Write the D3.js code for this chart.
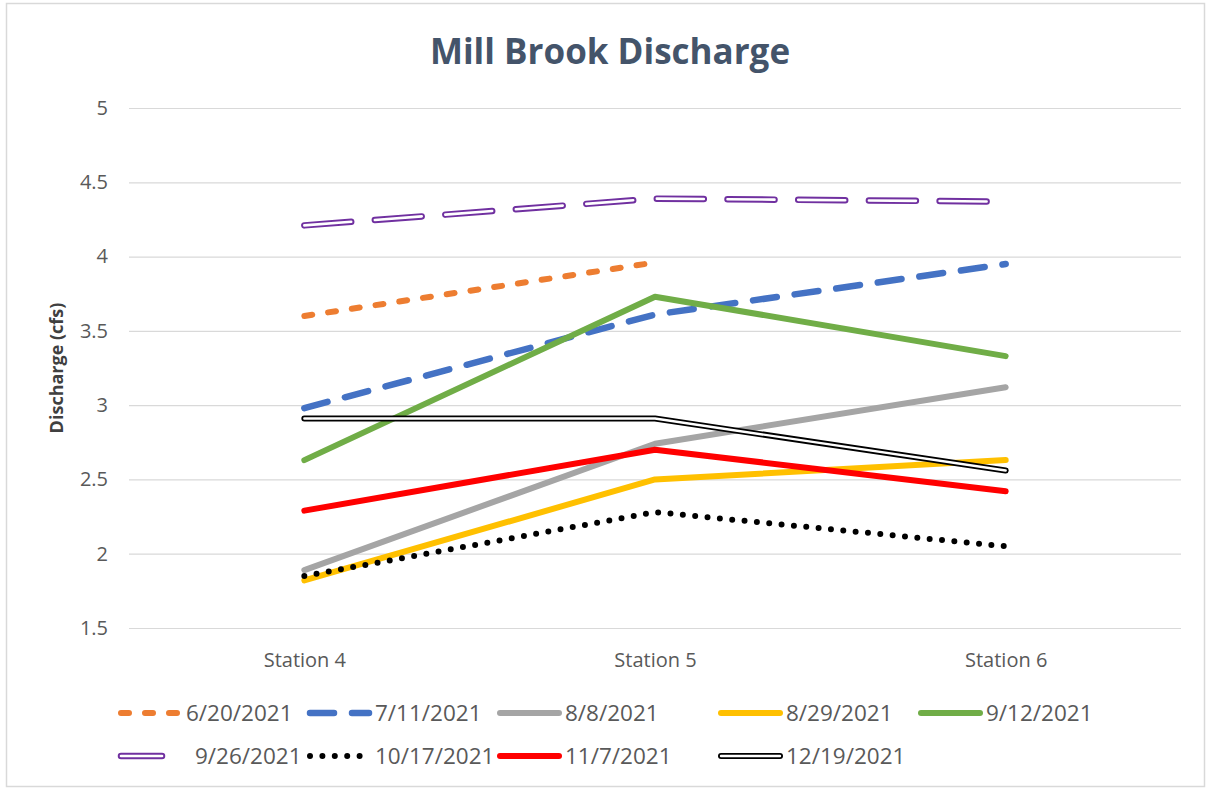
<!DOCTYPE html>
<html><head><meta charset="utf-8">
<script src="https://cdn.jsdelivr.net/npm/d3@7"></script>
<style>body{margin:0;background:#fff;}svg{display:block;font-family:"Open Sans",sans-serif;}</style>
</head><body>
<svg id="c" width="1207" height="790"></svg>
<script>
const categories = ["Station 4", "Station 5", "Station 6"];
const seriesNames = ["6/20/2021","7/11/2021","8/8/2021","8/29/2021","9/12/2021","9/26/2021","10/17/2021","11/7/2021","12/19/2021"];
const s0620 = [3.60, 3.96, null];
const s0711 = [2.98, 3.61, 3.95];
const s0808 = [1.89, 2.74, 3.12];
const s0829 = [1.82, 2.50, 2.63];
const s0912 = [2.63, 3.73, 3.33];
const s0926 = [4.21, 4.39, 4.37];
const s1017 = [1.85, 2.28, 2.05];
const s1107 = [2.29, 2.70, 2.42];
const s1219 = [2.91, 2.91, 2.56];
const yTicks = [1.5, 2, 2.5, 3, 3.5, 4, 4.5, 5];
const seriesValues = [s0620, s0711, s0808, s0829, s0912, s0926, s1017, s1107, s1219];

const styles = [
  {color:"#ED7D31", w:6, dash:"8,16", cap:"round"},
  {color:"#4472C4", w:6.5, dash:"24,18", cap:"round"},
  {color:"#A5A5A5", w:6},
  {color:"#FFC000", w:6},
  {color:"#70AD47", w:6},
  {color:"#7030A0", w:6.5, dash:"47,23.7", dbl:true, cap:"round"},
  {color:"#000000", w:6, dash:"0,12.4", cap:"round"},
  {color:"#FF0000", w:6},
  {color:"#000000", w:6, dbl:true}
];

const svg = d3.select("#c");
svg.append("rect").attr("x",6.5).attr("y",3.5).attr("width",1198).attr("height",783)
  .attr("fill","#fff").attr("stroke","#D9D9D9").attr("stroke-width",1.5);

const pLeft = 129, pRight = 1181, pTop = 108, pBottom = 628;
const x = d3.scalePoint().domain(categories).range([pLeft, pRight]).padding(0.5);
const y = d3.scaleLinear().domain([1.5, 5]).range([pBottom, pTop]);

svg.append("text").attr("x",610).attr("y",64).attr("text-anchor","middle")
  .attr("font-size",35).attr("font-weight","bold").attr("fill","#44546A").text("Mill Brook Discharge");

const yAxis = svg.append("g").attr("transform",`translate(${pLeft},0)`)
  .call(d3.axisLeft(y).tickValues(yTicks).tickSize(-(pRight-pLeft)).tickFormat(d3.format("")));
yAxis.select(".domain").remove();
yAxis.selectAll(".tick line").attr("stroke","#D9D9D9").attr("stroke-width",1.2);
yAxis.selectAll(".tick text").attr("x",-21).attr("fill","#595959").attr("font-size",20).attr("font-family","Open Sans, sans-serif");

const xAxis = svg.append("g").attr("transform",`translate(0,${pBottom})`)
  .call(d3.axisBottom(x).tickSize(0));
xAxis.select(".domain").remove();
xAxis.selectAll(".tick text").attr("dy",0).attr("y",39).attr("fill","#595959").attr("font-size",20).attr("font-family","Open Sans, sans-serif");

svg.append("text").attr("transform","translate(63,368) rotate(-90)").attr("text-anchor","middle")
  .attr("font-size",18).attr("font-weight","bold").attr("fill","#404040").text("Discharge (cfs)");

const line = d3.line().defined(d => d.v != null).x(d => x(d.c)).y(d => y(d.v));

function drawPath(g, dStr, st) {
  const p = g.append("path").attr("d", dStr).attr("fill","none").attr("stroke", st.color)
    .attr("stroke-width", st.w).attr("stroke-linecap", st.cap || "round").attr("stroke-linejoin","round");
  if (st.dash) p.attr("stroke-dasharray", st.dash);
  if (st.dbl) {
    const q = g.append("path").attr("d", dStr).attr("fill","none").attr("stroke","#fff")
      .attr("stroke-width", st.w*0.4).attr("stroke-linecap", st.cap || "round").attr("stroke-linejoin","round");
    if (st.dash) q.attr("stroke-dasharray", st.dash);
  }
}

const plot = svg.append("g");
seriesValues.forEach((vals, i) => {
  const data = vals.map((v, j) => ({c: categories[j], v}));
  drawPath(plot, line(data), styles[i]);
});

// legend
const legX = [118, 307, 497, 718, 918];
const legY = [713, 756];
const leg = svg.append("g");
seriesNames.forEach((name, i) => {
  const row = i < 5 ? 0 : 1, col = i < 5 ? i : i - 5;
  const x0 = legX[col], yy = legY[row];
  const st = styles[i];
  let len = 62;
  if (i === 5) len = 44;
  drawPath(leg, `M${x0+3},${yy}L${x0+len},${yy}`, st);
  leg.append("text").attr("x", i===5 ? x0+77 : x0+len+6).attr("y", yy).attr("dy","0.36em")
    .attr("font-size",22.5).attr("fill","#595959").text(name);
});
</script>
</body></html>
